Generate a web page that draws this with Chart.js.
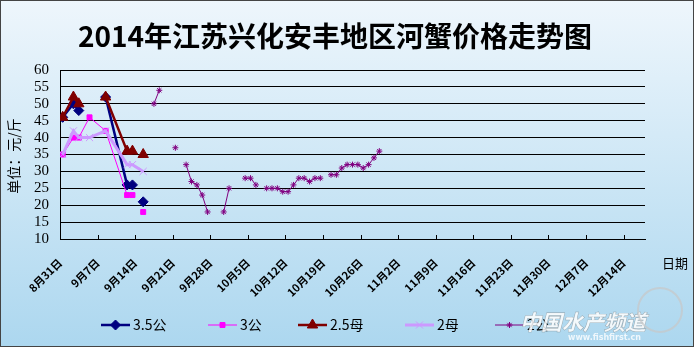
<!DOCTYPE html>
<html><head><meta charset="utf-8">
<script src="https://cdn.jsdelivr.net/npm/chart.js@4/dist/chart.umd.min.js"></script>
<style>html,body{margin:0;padding:0;background:#fff}#wrap{width:694px;height:347px;position:relative}</style>
</head><body><div id="wrap"><canvas id="c" width="694" height="347"></canvas></div>
<script>
const titleText = '2014年江苏兴化安丰地区河蟹价格走势图';
const yTitleText = '单位：元/斤';
const xTitleText = '日期';
const tickLabels = ['8月31日','9月7日','9月14日','9月21日','9月28日','10月5日','10月12日','10月19日','10月26日','11月2日','11月9日','11月16日','11月23日','11月30日','12月7日','12月14日'];
const tickDays = [0,7,14,21,28,35,42,49,56,63,70,77,84,91,98,105];
const seriesNames = ['3.5公','3公','2.5母','2母','2公'];

// days counted from 8月31日 (day 0)
const earlyDays = [0,2,3,5,8,12,13,14,15];
const price35Gong = [46,50,48,null,52,26,26,null,21];
const price3Gong  = [35,40,40,46,42,23,23,null,18];
const price25Mu   = [46,52,50,null,52,36,36,null,35];
const price2Mu    = [35,42,40,40,42,32,32,null,30];

const lateDays = [17,18,19,21,22,23,24,25,26,27,28,30,31,32,34,35,36,37,38,39,40,41,42,43,44,45,46,47,48,49,50,51,52,53,54,55,56,57,58,59];
const price2Gong = [50,54,null,37,null,32,27,26,23,18,null,18,25,null,28,28,26,null,25,25,25,24,24,26,28,28,27,28,28,null,29,29,31,32,32,32,31,32,34,36];

const toPts = (days, vals) => days.map((d, i) => ({x: d, y: vals[i]}));

const styles = [
  {color:'#000080', bw:2.5, ps:'rectRot', r:5, pbw:1},
  {color:'#FF00FF', bw:1, ps:'rect', r:3.5, pbw:1},
  {color:'#800000', bw:2.5, ps:'triangle', r:6, pbw:1},
  {color:'#CC99FF', bw:3, ps:'crossRot', r:5, pbw:1},
  {color:'#800080', bw:1, ps:'star', r:3, pbw:1}
];
const seriesData = [
  toPts(earlyDays, price35Gong),
  toPts(earlyDays, price3Gong),
  toPts(earlyDays, price25Mu),
  toPts(earlyDays, price2Mu),
  toPts(lateDays, price2Gong)
];

const datasets = seriesData.map((d, i) => ({
  label: seriesNames[i],
  data: d,
  borderColor: styles[i].color,
  backgroundColor: styles[i].color,
  borderWidth: styles[i].bw,
  pointStyle: styles[i].ps,
  pointRadius: styles[i].r,
  pointHoverRadius: styles[i].r,
  pointBorderWidth: styles[i].pbw,
  pointBorderColor: styles[i].color,
  pointBackgroundColor: styles[i].color,
  spanGaps: i === 3,
  tension: 0,
  order: 5 - i
}));

const decor = {
  id: 'decor',
  beforeDraw(chart) {
    const ctx = chart.ctx;
    const g = ctx.createLinearGradient(0, 0, 0, chart.height);
    g.addColorStop(0, '#EEF6FC');
    g.addColorStop(1, '#ACD7EF');
    ctx.save();
    ctx.fillStyle = g;
    ctx.fillRect(0, 0, chart.width, chart.height);
    ctx.restore();
  },
  afterDraw(chart) {
    const ctx = chart.ctx;
    const ca = chart.chartArea;
    ctx.save();
    // title
    ctx.fillStyle = '#000';
    ctx.font = 'bold 28px "Noto Sans CJK SC"';
    ctx.textAlign = 'center';
    ctx.textBaseline = 'middle';
    ctx.fillText(titleText, 335, 36);
    // y title
    ctx.save();
    ctx.translate(14, 156);
    ctx.rotate(-Math.PI / 2);
    ctx.font = '14px "Noto Sans CJK SC"';
    ctx.fillText(yTitleText, 0, 0);
    ctx.restore();
    // x title
    ctx.font = '13px "Noto Sans CJK SC"';
    ctx.textAlign = 'left';
    ctx.fillText(xTitleText, 662, 263);
    // inside tick marks on x axis
    const xs = chart.scales.x;
    ctx.strokeStyle = '#000';
    ctx.lineWidth = 1;
    xs.ticks.forEach(t => {
      const px = Math.round(xs.getPixelForValue(t.value)) + 0.5;
      ctx.beginPath();
      ctx.moveTo(px, ca.bottom);
      ctx.lineTo(px, ca.bottom - 4);
      ctx.stroke();
    });
    // legend
    const legendX = [101, 208, 298, 405, 495];
    const ly = 325;
    chart.data.datasets.forEach((ds, i) => {
      const x0 = legendX[i];
      ctx.strokeStyle = ds.borderColor;
      ctx.fillStyle = ds.backgroundColor;
      ctx.lineWidth = ds.borderWidth;
      ctx.beginPath();
      ctx.moveTo(x0, ly);
      ctx.lineTo(x0 + 29, ly);
      ctx.stroke();
      ctx.lineWidth = ds.pointBorderWidth;
      Chart.helpers.drawPoint(ctx, {pointStyle: ds.pointStyle, radius: ds.pointRadius, borderWidth: ds.pointBorderWidth, rotation: 0}, x0 + 14.5, ly);
      ctx.fillStyle = '#000';
      ctx.font = '14px "Noto Sans CJK SC"';
      ctx.textAlign = 'left';
      ctx.textBaseline = 'middle';
      ctx.fillText(ds.label, x0 + 32, ly);
    });
    // watermark
    ctx.font = 'italic bold 21px "Noto Sans CJK SC"';
    ctx.fillStyle = 'rgba(255,255,255,0.85)';
    ctx.strokeStyle = 'rgba(120,120,120,0.6)';
    ctx.lineWidth = 0.8;
    ctx.textAlign = 'left';
    ctx.strokeText('中国水产频道', 520, 322);
    ctx.fillText('中国水产频道', 520, 322);
    ctx.font = 'bold 8px "DejaVu Sans"';
    ctx.fillStyle = 'rgba(255,255,255,0.8)';
    ctx.fillText('www.fishfirst.cn', 568, 338);
    ctx.beginPath();
    ctx.strokeStyle = 'rgba(200,200,200,0.7)';
    ctx.lineWidth = 2;
    ctx.arc(660, 310, 22, 0, Math.PI * 2);
    ctx.stroke();
    // border
    ctx.strokeStyle = '#444';
    ctx.lineWidth = 1;
    ctx.strokeRect(0.5, 0.5, chart.width - 1, chart.height - 1);
    ctx.restore();
  }
};

new Chart(document.getElementById('c'), {
  type: 'line',
  data: {datasets},
  options: {
    responsive: false,
    animation: false,
    devicePixelRatio: 1,
    layout: {padding: {top: 70, right: 49, left: 0, bottom: 0}},
    plugins: {legend: {display: false}, title: {display: false}, tooltip: {enabled: false}},
    scales: {
      x: {
        type: 'linear',
        min: -0.5,
        max: 108.5,
        afterBuildTicks(scale) { scale.ticks = tickDays.map(d => ({value: d - 0.5})); },
        afterFit(scale) { scale.height = 108; },
        ticks: {
          autoSkip: false,
          maxRotation: 45,
          minRotation: 45,
          padding: 9,
          color: '#000',
          font: {family: '"Noto Sans CJK SC"', size: 11, weight: 'bold'},
          callback: (v, i) => tickLabels[i]
        },
        grid: {display: false},
        border: {display: true, color: '#000', width: 1}
      },
      y: {
        min: 10,
        max: 60,
        afterFit(scale) { scale.width = 60; },
        ticks: {
          autoSkip: false,
          stepSize: 5,
          padding: 11,
          color: '#000',
          font: {family: '"Liberation Serif"', size: 15}
        },
        grid: {color: '#000', lineWidth: 1, drawTicks: false},
        border: {display: true, color: '#000', width: 1}
      }
    }
  },
  plugins: [decor]
});
</script>
</body></html>
